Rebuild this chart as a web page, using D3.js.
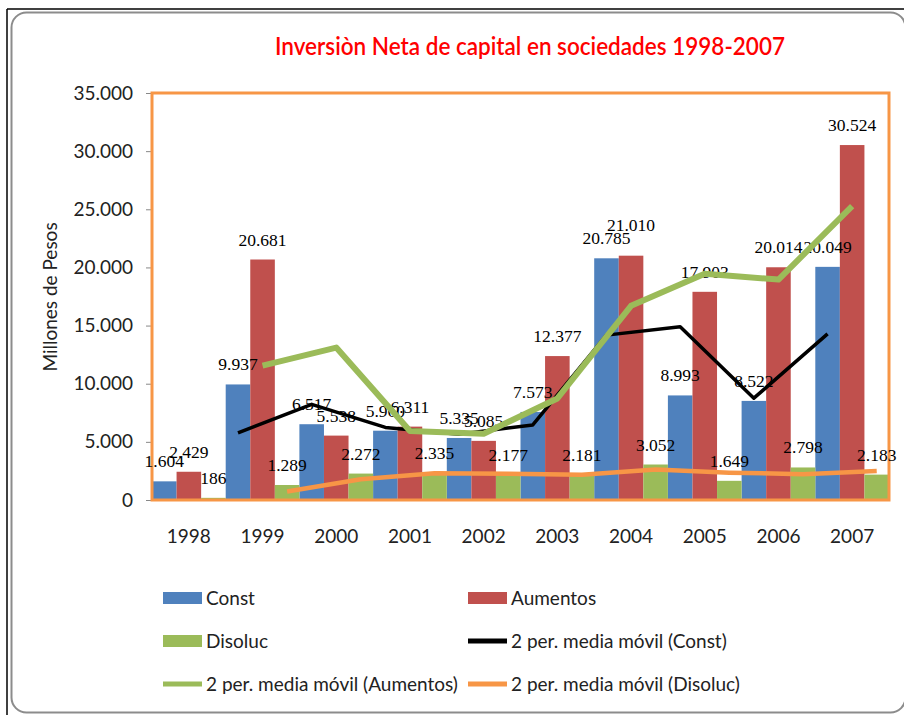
<!DOCTYPE html>
<html>
<head>
<meta charset="utf-8">
<script src="https://cdn.jsdelivr.net/npm/d3@7"></script>
<style>
  html, body { margin: 0; padding: 0; background: #fff; }
  svg { display: block; }
</style>
</head>
<body>
<div id="chart"></div>
<script>
// ---- Data ----
const years = ["1998", "1999", "2000", "2001", "2002", "2003", "2004", "2005", "2006", "2007"];
const constVals    = [1604, 9937, 6517, 5960, 5335, 7573, 20785, 8993, 8522, 20049];
const aumentosVals = [2429, 20681, 5538, 6311, 5085, 12377, 21010, 17903, 20014, 30524];
const disolucVals  = [186, 1289, 2272, 2335, 2177, 2181, 3052, 1649, 2798, 2183];
// 2-period moving averages as drawn (no value for the first year)
const constMA    = [null, 5771, 8227, 6239, 5648, 6454, 14179, 14889, 8758, 14286];
const aumentosMA = [null, 11555, 13110, 5925, 5698, 8731, 16694, 19457, 18959, 25269];
const disolucMA  = [null, 738, 1781, 2304, 2256, 2179, 2617, 2351, 2224, 2491];
const yTicks = [0, 5000, 10000, 15000, 20000, 25000, 30000, 35000];
const seriesNames = ["Const", "Aumentos", "Disoluc"];
const maNames = ["2 per. media móvil (Const)", "2 per. media móvil (Aumentos)", "2 per. media móvil (Disoluc)"];
const titleText = "Inversiòn Neta de capital en sociedades 1998-2007";
const yTitle = "Millones de Pesos";

// ---- Layout / style ----
const W = 904, H = 715;
const plot = { left: 152, right: 889, top: 93, bottom: 500 };
const barColors = ["#4F81BD", "#C0504D", "#9BBB59"];
const maColors = ["#000000", "#9BBB59", "#F79646"];
const maWidths = [3.5, 6, 4.5];
const uiFont = "Lato, 'Open Sans', sans-serif";
const labelFont = "'Liberation Serif', 'DejaVu Serif', serif";
// extra vertical lift for labels Excel moved to avoid a collision (series index, year index)
const labelLift = { "1-6": 11 };

const locale = d3.formatLocale({ decimal: ",", thousands: ".", grouping: [3], currency: ["$", ""] });
const fmt = locale.format(",d");

const svg = d3.select("#chart").append("svg").attr("width", W).attr("height", H);

// outer frame
svg.append("line").attr("x1", 7).attr("x2", W).attr("y1", 9).attr("y2", 9)
  .attr("stroke", "#000").attr("stroke-width", 1.5);
svg.append("line").attr("x1", 7).attr("x2", 7).attr("y1", 9).attr("y2", H)
  .attr("stroke", "#000").attr("stroke-width", 1.5);
svg.append("rect").attr("x", 11.5).attr("y", 12.5).attr("width", 894).attr("height", 700)
  .attr("rx", 15).attr("fill", "#fff").attr("stroke", "#8c8c8c").attr("stroke-width", 2);

// title
svg.append("text").attr("x", 530).attr("y", 55).attr("text-anchor", "middle")
  .attr("font-family", uiFont).attr("font-size", 24).attr("font-weight", 600)
  .attr("fill", "#FF0000").attr("textLength", 510).attr("lengthAdjust", "spacingAndGlyphs")
  .text(titleText);

// scales
const x = d3.scaleBand().domain(years).range([plot.left, plot.right]).paddingInner(0).paddingOuter(0);
const xs = d3.scaleBand().domain(seriesNames).range([0, x.bandwidth()]).padding(0);
const y = d3.scaleLinear().domain([0, 35000]).range([plot.bottom, plot.top]);

// y axis
const yAxis = d3.axisLeft(y).tickValues(yTicks).tickFormat(fmt).tickSize(6).tickPadding(13);
const gy = svg.append("g").attr("transform", `translate(${plot.left},0)`).call(yAxis);
gy.select(".domain").remove();
gy.selectAll(".tick line").attr("stroke", "#888");
gy.selectAll(".tick text").attr("font-family", uiFont).attr("font-size", 19).attr("fill", "#222");

// x axis labels
const xAxis = d3.axisBottom(x).tickSize(0).tickPadding(30);
const gx = svg.append("g").attr("transform", `translate(0,${plot.bottom})`).call(xAxis);
gx.select(".domain").remove();
gx.selectAll(".tick text").attr("font-family", uiFont).attr("font-size", 19).attr("fill", "#222");

// y title
svg.append("text").attr("transform", "translate(57,297) rotate(-90)").attr("text-anchor", "middle")
  .attr("font-family", uiFont).attr("font-size", 19).attr("fill", "#222").text(yTitle);

// bars
const seriesData = [constVals, aumentosVals, disolucVals];
const barsG = svg.append("g");
seriesData.forEach((vals, si) => {
  barsG.selectAll(null).data(vals).enter().append("rect")
    .attr("x", (d, i) => x(years[i]) + xs(seriesNames[si]))
    .attr("width", xs.bandwidth())
    .attr("y", d => y(d))
    .attr("height", d => y(0) - y(d))
    .attr("fill", barColors[si]);
});

// plot border (orange)
svg.append("rect").attr("x", plot.left).attr("y", plot.top)
  .attr("width", plot.right - plot.left).attr("height", plot.bottom - plot.top)
  .attr("fill", "none").attr("stroke", "#F79646").attr("stroke-width", 3);

// data labels
const labG = svg.append("g");
seriesData.forEach((vals, si) => {
  labG.selectAll(null).data(vals).enter().append("text")
    .attr("x", (d, i) => x(years[i]) + xs(seriesNames[si]) + xs.bandwidth() / 2)
    .attr("y", (d, i) => y(d) - 14 - (labelLift[si + "-" + i] || 0))
    .attr("text-anchor", "middle")
    .attr("font-family", labelFont).attr("font-size", 17.5).attr("fill", "#000")
    .text(d => fmt(d));
});

// moving average lines
const maData = [constMA, aumentosMA, disolucMA];
maData.forEach((vals, si) => {
  const pts = vals.map((v, i) => ({ v, i })).filter(p => p.v !== null);
  const line = d3.line()
    .x(p => x(years[p.i]) + xs(seriesNames[si]) + xs.bandwidth() / 2)
    .y(p => y(p.v));
  svg.append("path").datum(pts).attr("d", line).attr("fill", "none")
    .attr("stroke", maColors[si]).attr("stroke-width", maWidths[si])
    .attr("stroke-linejoin", "round");
});

// legend
const legendItems = [
  { name: seriesNames[0], type: "rect", color: barColors[0] },
  { name: seriesNames[1], type: "rect", color: barColors[1] },
  { name: seriesNames[2], type: "rect", color: barColors[2] },
  { name: maNames[0], type: "line", color: maColors[0] },
  { name: maNames[1], type: "line", color: maColors[1] },
  { name: maNames[2], type: "line", color: maColors[2] }
];
const legX = [163, 468], legY = [598, 641, 684];
const lg = svg.append("g");
legendItems.forEach((it, k) => {
  const cx = legX[k % 2], cy = legY[Math.floor(k / 2)];
  if (it.type === "rect") {
    lg.append("rect").attr("x", cx).attr("y", cy - 6).attr("width", 39).attr("height", 12).attr("fill", it.color);
  } else {
    lg.append("rect").attr("x", cx).attr("y", cy - 2.5).attr("width", 39).attr("height", 5).attr("fill", it.color);
  }
  lg.append("text").attr("x", cx + 43).attr("y", cy).attr("dy", "0.35em")
    .attr("font-family", uiFont).attr("font-size", 19).attr("fill", "#222").text(it.name);
});
</script>
</body>
</html>
